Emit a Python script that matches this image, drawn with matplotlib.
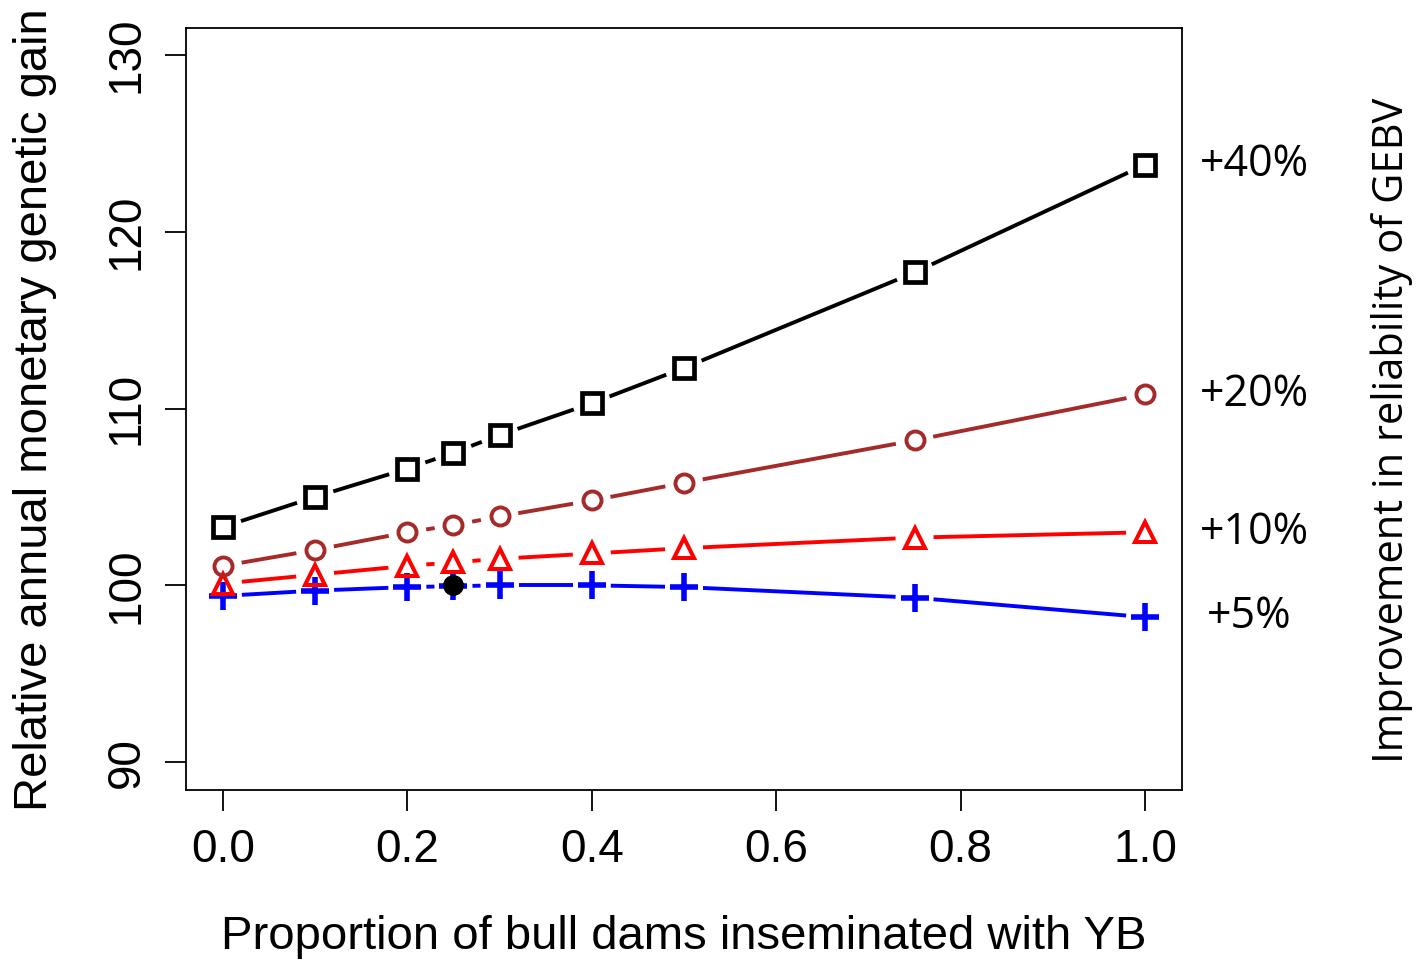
import numpy as np
import matplotlib
matplotlib.use("Agg")
import matplotlib.pyplot as plt

# proportion of bull dams inseminated with young bulls
proportion = [0.0, 0.1, 0.2, 0.25, 0.3, 0.4, 0.5, 0.75, 1.0]

# relative annual monetary genetic gain per reliability improvement
gain_40 = [103.3, 105.0, 106.6, 107.5, 108.5, 110.3, 112.3, 117.7, 123.8]
gain_20 = [101.1, 102.0, 103.0, 103.4, 103.9, 104.8, 105.8, 108.2, 110.8]
gain_10 = [100.1, 100.6, 101.1, 101.3, 101.5, 101.8, 102.1, 102.7, 103.0]
gain_5 = [99.4, 99.7, 99.9, 99.95, 100.0, 100.0, 99.9, 99.3, 98.2]

labels = ["+40%", "+20%", "+10%", "+5%"]
reference_point = (0.25, 100.0)

W, H = 1422, 961
fig = plt.figure(figsize=(W / 100, H / 100), dpi=100)
ax = fig.add_axes([186 / W, 1 - 790 / H, 996 / W, 762 / H])
ax.set_xlim(-0.04, 1.04)
ax.set_ylim(88.42, 131.53)

r_font = ["Liberation Sans", "DejaVu Sans"]
pc_font = ["Open Sans", "DejaVu Sans"]


def gapped_line(x, y, color, gap=19):
    # R type="b": segments stop short of each point
    pts = ax.transData.transform(np.column_stack([x, y]))
    inv = ax.transData.inverted()
    for p, q in zip(pts[:-1], pts[1:]):
        d = q - p
        length = np.hypot(*d)
        if length <= 2 * gap:
            continue
        u = d / length
        a, b = inv.transform(np.array([p + u * gap, q - u * gap]))
        ax.plot([a[0], b[0]], [a[1], b[1]], color=color, lw=2.8, solid_capstyle="butt")


series = [
    (gain_40, "black", "s", 14, 3.4),
    (gain_20, "#A52A2A", "o", 13, 2.8),
    (gain_10, "red", "^", 15, 2.9),
    (gain_5, "blue", "+", 20, 4.0),
]

for vals, col, mk, ms, mew in series[::-1]:
    gapped_line(proportion, vals, col)
    ax.plot(proportion, vals, ls="none", marker=mk, ms=ms, mew=mew,
            mfc="none", mec=col, color=col)

ax.plot(*reference_point, marker="o", ms=14, color="black", ls="none")

for (vals, col, mk, ms, mew), lab in zip(series, labels):
    xoff = 1.018 if lab != "+5%" else 1.025
    ax.text(xoff, vals[-1], lab, transform=ax.get_yaxis_transform(),
            ha="left", va="center", fontsize=31, family=pc_font, clip_on=False)

ax.set_xticks([0.0, 0.2, 0.4, 0.6, 0.8, 1.0])
ax.set_xticklabels(["0.0", "0.2", "0.4", "0.6", "0.8", "1.0"])
ax.set_yticks([90, 100, 110, 120, 130])
ax.set_yticklabels(["90", "100", "110", "120", "130"], rotation=90, va="center")
ax.tick_params(length=15, width=1.3, direction="out", labelsize=33, pad=12)
for lbl in ax.get_xticklabels() + ax.get_yticklabels():
    lbl.set_family(r_font)
for s in ax.spines.values():
    s.set_linewidth(1.3)

fig.text(684 / W, 1 - 937 / H, "Proportion of bull dams inseminated with YB",
         ha="center", va="center", fontsize=34, family=r_font)
fig.text(35 / W, 1 - 410 / H, "Relative annual monetary genetic gain",
         ha="center", va="center", rotation=90, fontsize=34, family=r_font)
fig.text(1392 / W, 1 - 430 / H, "Improvement in reliability of GEBV",
         ha="center", va="center", rotation=90, fontsize=30, family=pc_font)

fig.savefig("out.png", dpi=100)
